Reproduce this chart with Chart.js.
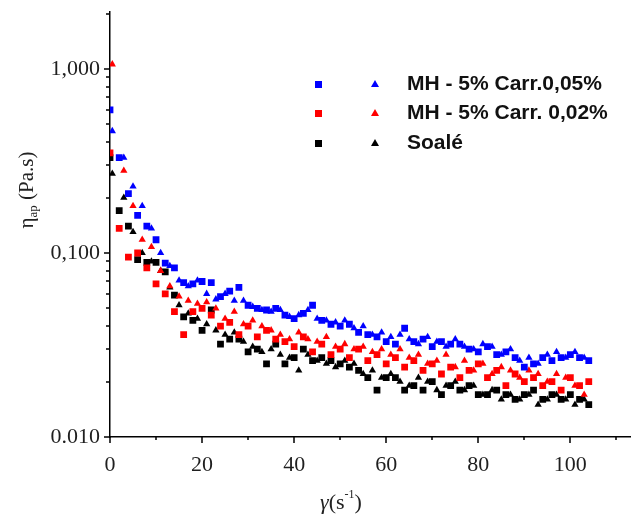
<!DOCTYPE html>
<html>
<head>
<meta charset="utf-8">
<script src="https://cdn.jsdelivr.net/npm/chart.js@4.4.1/dist/chart.umd.min.js"></script>
<style>
  html, body { margin: 0; padding: 0; background: #fff; }
  #wrap { width: 635px; height: 516px; }
</style>
</head>
<body>
<div id="wrap"><canvas id="chart" width="635" height="516"></canvas></div>
<script>
// shear rate (s-1) for square and triangle markers
const xSquares = [0, 2, 4, 6, 8, 10, 12, 14, 16, 18, 20, 22, 24, 26, 28, 30, 32, 34, 36, 38, 40,
  42, 44, 46, 48, 50, 52, 54, 56, 58, 60, 62, 64, 66, 68, 70, 72, 74, 76, 78, 80,
  82, 84, 86, 88, 90, 92, 94, 96, 98, 100, 102, 104];
const xTriangles = [0.5, 3, 5, 7, 9, 11, 13, 15, 17, 19, 21, 23, 25, 27, 29, 31, 33, 35, 37, 39,
  41, 43, 45, 47, 49, 51, 53, 55, 57, 59, 61, 63, 65, 67, 69, 71, 73, 75, 77, 79,
  81, 83, 85, 87, 89, 91, 93, 95, 97, 99, 101, 103];

// apparent viscosity (Pa.s)
const blueSquares = [0.60, 0.33, 0.21, 0.16, 0.14, 0.118, 0.088, 0.083, 0.069, 0.068, 0.070,
  0.069, 0.058, 0.062, 0.065, 0.052, 0.050, 0.049, 0.050, 0.046, 0.044,
  0.047, 0.052, 0.043, 0.041, 0.040, 0.041, 0.037, 0.036, 0.035, 0.033,
  0.032, 0.039, 0.033, 0.034, 0.031, 0.033, 0.032, 0.032, 0.030, 0.029,
  0.031, 0.028, 0.029, 0.027, 0.024, 0.025, 0.027, 0.026, 0.027, 0.028, 0.027, 0.026];
const blueTriangles = [0.46, 0.33, 0.23, 0.18, 0.136, 0.10, 0.085, 0.071, 0.066, 0.071,
  0.060, 0.056, 0.060, 0.055, 0.055, 0.051, 0.049, 0.048, 0.049, 0.045,
  0.046, 0.049, 0.044, 0.043, 0.042, 0.043, 0.039, 0.040, 0.036, 0.037,
  0.035, 0.036, 0.034, 0.032, 0.035, 0.033, 0.031, 0.034, 0.031, 0.030,
  0.032, 0.031, 0.028, 0.030, 0.026, 0.027, 0.025, 0.028, 0.029, 0.027, 0.029, 0.027];
const redSquares = [0.35, 0.136, 0.095, 0.10, 0.083, 0.068, 0.060, 0.048, 0.036, 0.048, 0.050,
  0.046, 0.040, 0.042, 0.036, 0.040, 0.035, 0.038, 0.034, 0.033, 0.031,
  0.035, 0.029, 0.032, 0.028, 0.030, 0.027, 0.030, 0.026, 0.028, 0.025,
  0.027, 0.024, 0.026, 0.023, 0.025, 0.022, 0.024, 0.021, 0.023, 0.025,
  0.021, 0.023, 0.019, 0.022, 0.020, 0.021, 0.019, 0.020, 0.018, 0.021, 0.019, 0.020];
const redTriangles = [1.06, 0.28, 0.18, 0.118, 0.108, 0.080, 0.066, 0.058, 0.055, 0.053,
  0.054, 0.050, 0.044, 0.048, 0.041, 0.043, 0.040, 0.038, 0.036, 0.034,
  0.037, 0.034, 0.033, 0.035, 0.031, 0.032, 0.030, 0.031, 0.029, 0.030,
  0.028, 0.030, 0.027, 0.028, 0.025, 0.026, 0.028, 0.024, 0.026, 0.023,
  0.025, 0.022, 0.024, 0.023, 0.021, 0.023, 0.022, 0.020, 0.022, 0.021, 0.019, 0.017];
const blackSquares = [0.33, 0.17, 0.14, 0.092, 0.089, 0.089, 0.079, 0.059, 0.045, 0.043, 0.038,
  0.049, 0.032, 0.034, 0.034, 0.029, 0.030, 0.025, 0.032, 0.025, 0.027,
  0.030, 0.026, 0.027, 0.026, 0.025, 0.024, 0.023, 0.021, 0.018, 0.021,
  0.021, 0.018, 0.019, 0.018, 0.020, 0.017, 0.019, 0.018, 0.019, 0.017,
  0.017, 0.018, 0.017, 0.016, 0.017, 0.018, 0.016, 0.017, 0.016, 0.017, 0.016, 0.015];
const blackTriangles = [0.27, 0.20, 0.13, 0.10, 0.090, 0.080, 0.065, 0.052, 0.047, 0.044,
  0.041, 0.038, 0.036, 0.037, 0.033, 0.031, 0.029, 0.030, 0.028, 0.027,
  0.023, 0.028, 0.026, 0.025, 0.024, 0.026, 0.025, 0.022, 0.023, 0.021,
  0.022, 0.020, 0.019, 0.021, 0.020, 0.018, 0.019, 0.020, 0.018, 0.019,
  0.017, 0.018, 0.016, 0.017, 0.016, 0.017, 0.015, 0.016, 0.017, 0.016, 0.015, 0.016];

const seriesNames = ['MH - 5% Carr.0,05%', 'MH - 5% Carr. 0,02%', 'Soalé'];
const seriesColors = ['#0000ff', '#ff0000', '#000000'];

const xTickValues = [0, 20, 40, 60, 80, 100];
const xMinorTicks = [10, 30, 50, 70, 90, 110];
const yTickValues = [0.01, 0.02, 0.03, 0.04, 0.05, 0.06, 0.07, 0.08, 0.09,
  0.1, 0.2, 0.3, 0.4, 0.5, 0.6, 0.7, 0.8, 0.9, 1, 2];
const yMajorTicks = [0.01, 0.1, 1];
const yTickLabels = ['0.010', '0,100', '1,000'];

const toPoints = (xs, ys) => ys.map((v, i) => ({ x: xs[i], y: v }));

const serif = "'Liberation Serif', 'Times New Roman', serif";
const sans = "'Liberation Sans', Arial, sans-serif";

const squareSets = [blueSquares, redSquares, blackSquares];
const triangleSets = [blueTriangles, redTriangles, blackTriangles];
const datasets = [];
seriesNames.forEach((name, i) => {
  datasets.push({
    label: name,
    data: toPoints(xSquares, squareSets[i]),
    pointStyle: 'rect',
    pointRadius: 4.8,
    backgroundColor: seriesColors[i],
    borderColor: seriesColors[i],
    borderWidth: 0,
    showLine: false
  });
  datasets.push({
    label: name,
    data: toPoints(xTriangles, triangleSets[i]),
    pointStyle: 'triangle',
    pointRadius: 4.2,
    backgroundColor: seriesColors[i],
    borderColor: seriesColors[i],
    borderWidth: 0,
    showLine: false
  });
});

// ticks, axis titles and legend drawn by hand (two markers per legend row)
const decorations = {
  id: 'decorations',
  afterDraw(chart) {
    const ctx = chart.ctx;
    const xs = chart.scales.x;
    const ys = chart.scales.y;
    const area = chart.chartArea;
    ctx.save();
    ctx.strokeStyle = '#000';
    ctx.lineWidth = 1.5;
    ctx.beginPath();
    xTickValues.forEach(v => {
      const px = Math.round(xs.getPixelForValue(v));
      ctx.moveTo(px, area.bottom); ctx.lineTo(px, area.bottom + 6);
    });
    xMinorTicks.forEach(v => {
      const px = Math.round(xs.getPixelForValue(v));
      ctx.moveTo(px, area.bottom); ctx.lineTo(px, area.bottom + 3);
    });
    yTickValues.forEach(v => {
      const py = Math.round(ys.getPixelForValue(v));
      const len = yMajorTicks.includes(v) ? 6 : 4;
      ctx.moveTo(area.left, py); ctx.lineTo(area.left - len, py);
    });
    ctx.stroke();

    // y title: eta_ap (Pa.s)
    ctx.fillStyle = '#222';
    ctx.translate(26, 190);
    ctx.rotate(-Math.PI / 2);
    ctx.textBaseline = 'alphabetic';
    ctx.font = '21px ' + serif;
    const etaW = ctx.measureText('\u03b7').width;
    ctx.font = '13px ' + serif;
    const subW = ctx.measureText('ap').width;
    ctx.font = '21px ' + serif;
    const restW = ctx.measureText(' (Pa.s)').width;
    let sx = -(etaW + subW + restW) / 2;
    ctx.fillText('\u03b7', sx, 7);
    sx += etaW;
    ctx.font = '13px ' + serif;
    ctx.fillText('ap', sx, 11);
    sx += subW;
    ctx.font = '21px ' + serif;
    ctx.fillText(' (Pa.s)', sx, 7);
    ctx.setTransform(1, 0, 0, 1, 0, 0);

    // x title: gamma (s^-1)
    ctx.font = 'italic 22px ' + serif;
    const gW = ctx.measureText('\u03b3').width;
    ctx.font = '22px ' + serif;
    const pW = ctx.measureText('(s').width;
    ctx.font = '12px ' + serif;
    const supW = ctx.measureText('-1').width;
    ctx.font = '22px ' + serif;
    const cW = ctx.measureText(')').width;
    let tx = 341 - (gW + pW + supW + cW) / 2;
    const ty = 509;
    ctx.font = 'italic 22px ' + serif;
    ctx.fillText('\u03b3', tx, ty);
    tx += gW;
    ctx.font = '22px ' + serif;
    ctx.fillText('(s', tx, ty);
    tx += pW;
    ctx.font = '12px ' + serif;
    ctx.fillText('-1', tx, ty - 11);
    tx += supW;
    ctx.font = '22px ' + serif;
    ctx.fillText(')', tx, ty);

    // legend
    const rows = [84, 113, 143];
    rows.forEach((ry, i) => {
      ctx.fillStyle = seriesColors[i];
      ctx.fillRect(315, ry - 3, 7, 7);
      ctx.beginPath();
      ctx.moveTo(375, ry - 4);
      ctx.lineTo(379, ry + 3);
      ctx.lineTo(371, ry + 3);
      ctx.closePath();
      ctx.fill();
      ctx.fillStyle = '#111';
      ctx.font = 'bold 21px ' + sans;
      ctx.textBaseline = 'middle';
      ctx.fillText(seriesNames[i], 407, ry);
    });
    ctx.restore();
  }
};

new Chart(document.getElementById('chart'), {
  type: 'scatter',
  data: { datasets },
  options: {
    responsive: false,
    animation: false,
    devicePixelRatio: 1,
    layout: { padding: { top: 12, left: 0, right: 0, bottom: 0 } },
    plugins: { legend: { display: false }, tooltip: { enabled: false } },
    scales: {
      x: {
        type: 'linear',
        min: 0,
        max: 113,
        afterBuildTicks: (scale) => { scale.ticks = xTickValues.map(v => ({ value: v })); },
        afterFit: (scale) => {
          scale.height = 79;
          scale.paddingLeft = 0;
          scale.paddingRight = 0;
        },
        grid: { display: false, drawTicks: false },
        border: { display: true, color: '#000', width: 1.5 },
        ticks: {
          autoSkip: false,
          maxRotation: 0,
          padding: 15,
          color: '#1f1f1f',
          font: { family: serif, size: 22 }
        }
      },
      y: {
        type: 'logarithmic',
        min: 0.01,
        max: 2.04,
        afterBuildTicks: (scale) => { scale.ticks = yTickValues.map(v => ({ value: v })); },
        afterFit: (scale) => {
          scale.width = 110;
          scale.paddingTop = 0;
          scale.paddingBottom = 0;
        },
        grid: { display: false, drawTicks: false },
        border: { display: true, color: '#000', width: 1.5 },
        ticks: {
          autoSkip: false,
          padding: 10,
          color: '#1f1f1f',
          font: { family: serif, size: 22 },
          callback: (value) => {
            const k = yMajorTicks.findIndex(m => Math.abs(m - value) < 1e-9);
            return k >= 0 ? yTickLabels[k] : '';
          }
        }
      }
    }
  },
  plugins: [decorations]
});
</script>
</body>
</html>
